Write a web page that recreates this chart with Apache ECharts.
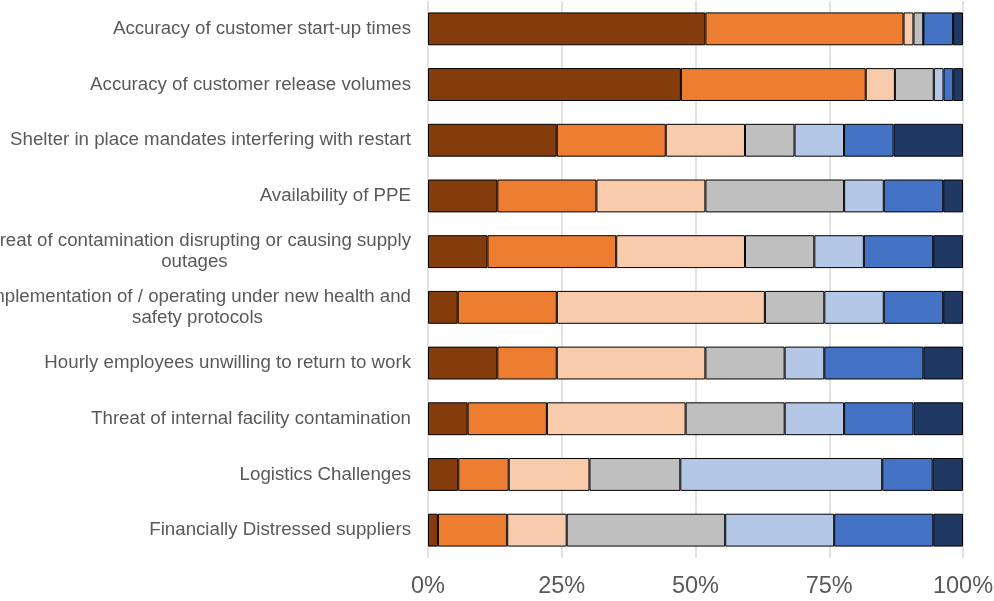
<!DOCTYPE html>
<html>
<head>
<meta charset="utf-8">
<script src="https://cdn.jsdelivr.net/npm/echarts@6/dist/echarts.min.js"></script>
<style>
  html, body { margin: 0; padding: 0; background: #fff; }
  #chart { width: 994px; height: 601px; }
</style>
</head>
<body>
<div id="chart"></div>
<script>
// Categories, listed bottom to top (category axis starts at the bottom)
const categories = [
  'Financially Distressed suppliers',
  'Logistics Challenges',
  'Threat of internal facility contamination',
  'Hourly employees unwilling to return to work',
  'Implementation of / operating under new health and\nsafety protocols',
  'Threat of contamination disrupting or causing supply\noutages',
  'Availability of PPE',
  'Shelter in place mandates interfering with restart',
  'Accuracy of customer release volumes',
  'Accuracy of customer start-up times'
];

// Share of responses (%) per rating level, same order as categories
const level1 = [1.85, 5.66, 7.41, 12.96, 5.56, 11.11, 12.96, 24.07, 47.27, 51.85];
const level2 = [12.96, 9.43, 14.81, 11.11, 18.52, 24.07, 18.52, 20.37, 34.55, 37.04];
const level3 = [11.11, 15.09, 25.93, 27.78, 38.89, 24.07, 20.37, 14.81, 5.45, 1.85];
const level4 = [29.63, 16.98, 18.52, 14.81, 11.11, 12.96, 25.93, 9.26, 7.27, 1.85];
const level5 = [20.37, 37.74, 11.11, 7.41, 11.11, 9.26, 7.41, 9.26, 1.82, 0];
const level6 = [18.52, 9.43, 12.96, 18.52, 11.11, 12.96, 11.11, 9.26, 1.82, 5.56];
const level7 = [5.56, 5.66, 9.26, 7.41, 3.70, 5.56, 3.70, 12.96, 1.82, 1.85];

const tickValues = [0, 25, 50, 75, 100];

const levels = [
  { name: 'Level 1', data: level1, color: '#843C0C' },
  { name: 'Level 2', data: level2, color: '#ED7D31' },
  { name: 'Level 3', data: level3, color: '#F8CBAD' },
  { name: 'Level 4', data: level4, color: '#BFBFBF' },
  { name: 'Level 5', data: level5, color: '#B4C7E7' },
  { name: 'Level 6', data: level6, color: '#4472C4' },
  { name: 'Level 7', data: level7, color: '#203864' }
];

const chart = echarts.init(document.getElementById('chart'), null, { renderer: 'canvas' });

chart.setOption({
  animation: false,
  backgroundColor: '#ffffff',
  grid: {
    left: 428, right: 31, top: 1, bottom: 43,
    containLabel: false,
    outerBoundsMode: 'none'
  },
  xAxis: {
    type: 'value',
    min: tickValues[0],
    max: tickValues[tickValues.length - 1],
    interval: 25,
    axisLine: { show: false },
    axisTick: { show: false },
    splitLine: { show: true, lineStyle: { color: '#D9D9D9', width: 1.5 } },
    axisLabel: {
      formatter: v => v + '%',
      color: '#595959',
      fontFamily: 'Liberation Sans, Arial, sans-serif',
      fontSize: 23.5,
      margin: 17
    }
  },
  yAxis: {
    type: 'category',
    data: categories,
    axisLine: { show: false },
    axisTick: { show: false },
    axisLabel: {
      margin: 17,
      formatter: function (v) {
        return v.split('\n').map(s => '{t|' + s + '}').join('\n');
      },
      rich: {
        t: {
          align: 'center',
          color: '#595959',
          fontFamily: 'Liberation Sans, Arial, sans-serif',
          fontSize: 18.7,
          lineHeight: 21
        }
      }
    }
  },
  series: levels.map(l => ({
    name: l.name,
    type: 'bar',
    stack: 'total',
    data: l.data,
    barCategoryGap: '41%',
    itemStyle: { color: l.color, borderColor: '#000000', borderWidth: 1 }
  }))
});
</script>
</body>
</html>
